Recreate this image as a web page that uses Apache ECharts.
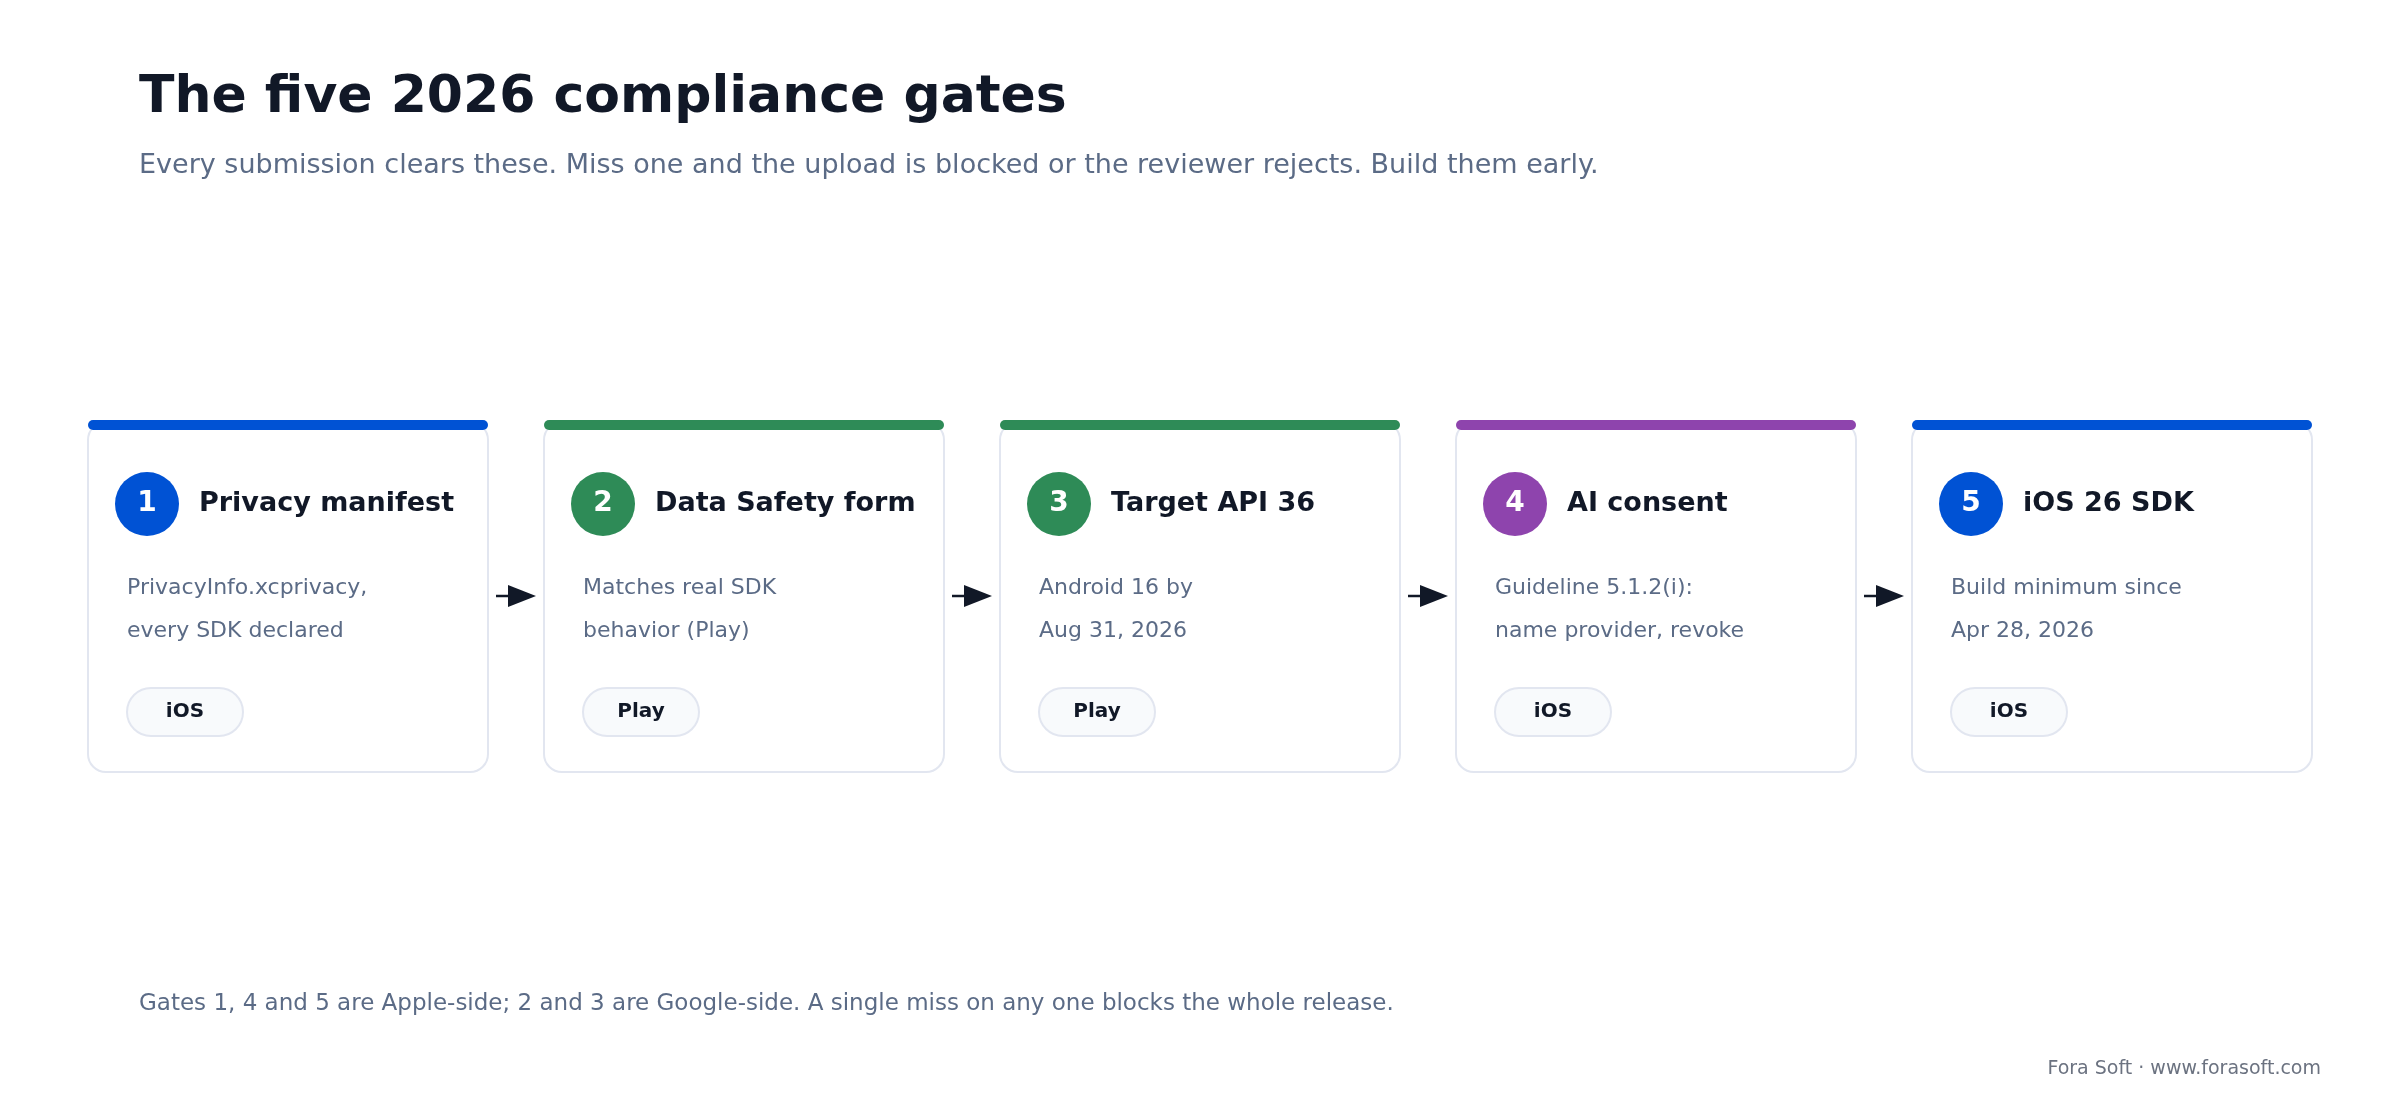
<!DOCTYPE html>
<html><head><meta charset="utf-8">
<script src="https://cdn.jsdelivr.net/npm/echarts@6/dist/echarts.min.js"></script>
<style>html,body{margin:0;padding:0;background:#fff}#c{width:2400px;height:1120px}</style>
</head><body><div id="c"></div>
<script>
const numbers = ['1','2','3','4','5'];
const titles = ['Privacy manifest','Data Safety form','Target API 36','AI consent','iOS 26 SDK'];
const descLine1 = ['PrivacyInfo.xcprivacy,','Matches real SDK','Android 16 by','Guideline 5.1.2(i):','Build minimum since'];
const descLine2 = ['every SDK declared','behavior (Play)','Aug 31, 2026','name provider, revoke','Apr 28, 2026'];
const tags = ['iOS','Play','Play','iOS','iOS'];
const colors = ['#0052d4','#2e8b57','#2e8b57','#8e44ad','#0052d4'];

(function(){
const F = 'DejaVu Sans';
const g = [];
const x0 = 88, step = 456, w = 400, cardTop = 420, cardBottom = 772;
for (let i = 0; i < 5; i++) {
  const x = x0 + i * step;
  g.push({type:'rect', shape:{x:x, y:cardTop+2, width:w, height:cardBottom-cardTop-2, r:18}, style:{fill:'#fff', stroke:'#e2e6f0', lineWidth:2}});
  g.push({type:'rect', shape:{x:x, y:cardTop, width:w, height:10, r:5}, style:{fill:colors[i]}});
  g.push({type:'circle', shape:{cx:x+59, cy:504, r:32}, style:{fill:colors[i]}});
  g.push({type:'text', x:x+59, y:504, style:{text:numbers[i], fill:'#fff', font:'bold 28px "'+F+'"', align:'center', verticalAlign:'middle'}});
  g.push({type:'text', x:x+111, y:504, style:{text:titles[i], fill:'#111827', font:'bold 27px "'+F+'"', align:'left', verticalAlign:'middle'}});
  g.push({type:'text', x:x+39, y:588, style:{text:descLine1[i], fill:'#5b6b86', font:'22px "'+F+'"', align:'left', verticalAlign:'middle'}});
  g.push({type:'text', x:x+39, y:631, style:{text:descLine2[i], fill:'#5b6b86', font:'22px "'+F+'"', align:'left', verticalAlign:'middle'}});
  g.push({type:'rect', shape:{x:x+39, y:688, width:116, height:48, r:24}, style:{fill:'#f8fafc', stroke:'#e2e6f0', lineWidth:2}});
  g.push({type:'text', x:x+97, y:712, style:{text:tags[i], fill:'#111827', font:'bold 20px "'+F+'"', align:'center', verticalAlign:'middle'}});
  if (i < 4) {
    const ax = x + w + 8;
    g.push({type:'line', shape:{x1:ax, y1:596, x2:ax+16, y2:596}, style:{stroke:'#111827', lineWidth:2.5}});
    g.push({type:'polygon', shape:{points:[[ax+12,585],[ax+40,596],[ax+12,607]]}, style:{fill:'#111827'}});
  }
}
g.push({type:'text', x:139, y:98, style:{text:'The five 2026 compliance gates', fill:'#111827', font:'bold 52px "'+F+'"', verticalAlign:'middle'}});
g.push({type:'text', x:139, y:166, style:{text:'Every submission clears these. Miss one and the upload is blocked or the reviewer rejects. Build them early.', fill:'#5b6b86', font:'27px "'+F+'"', verticalAlign:'middle'}});
g.push({type:'text', x:139, y:1004, style:{text:'Gates 1, 4 and 5 are Apple-side; 2 and 3 are Google-side. A single miss on any one blocks the whole release.', fill:'#5b6b86', font:'23px "'+F+'"', verticalAlign:'middle'}});
g.push({type:'text', x:2321, y:1069, style:{text:'Fora Soft · www.forasoft.com', fill:'#6b7280', font:'19px "'+F+'"', align:'right', verticalAlign:'middle'}});

const chart = echarts.init(document.getElementById('c'));
chart.setOption({backgroundColor:'#fff', animation:false, graphic:g});
})();
</script></body></html>
